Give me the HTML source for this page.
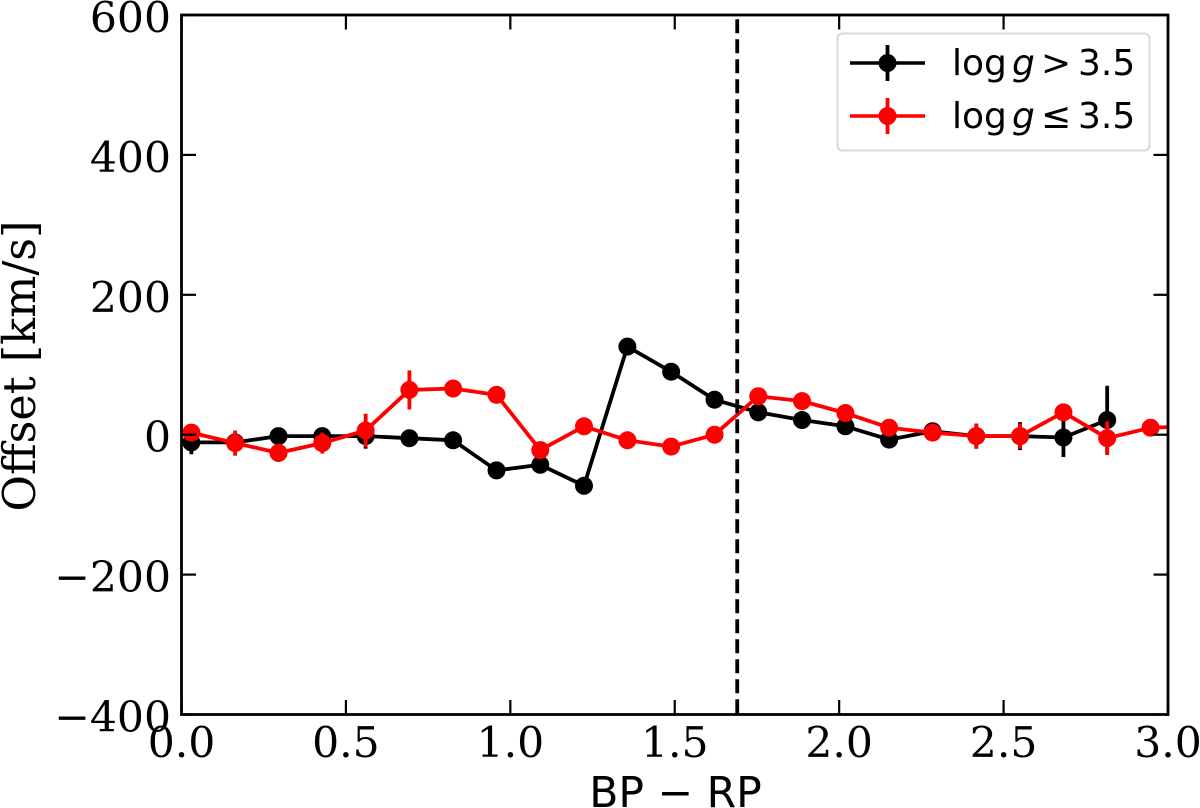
<!DOCTYPE html>
<html>
<head>
<meta charset="utf-8">
<title>Offset vs BP-RP</title>
<style>
html,body{margin:0;padding:0;background:#fff;width:1200px;height:808px;overflow:hidden}
svg{display:block}
.tick{font-family:"DejaVu Serif","Liberation Serif",serif;font-size:42.5px;fill:#000}
.ylab{font-family:"DejaVu Serif","Liberation Serif",serif;font-size:44.5px;fill:#000}
.sans{font-family:"DejaVu Sans","Liberation Sans",sans-serif;fill:#000}
</style>
</head>
<body>
<svg id="chart" xmlns="http://www.w3.org/2000/svg" width="1200" height="808" viewBox="0 0 1200 808">
  <defs><clipPath id="plot-clip"><rect x="181.5" y="15" width="986.5" height="699.5"/></clipPath></defs>
  <rect x="181.5" y="15" width="986.5" height="699.5" fill="#fff"/>
  <g id="marks" clip-path="url(#plot-clip)"></g>
  <g id="ticks"></g>
  <rect x="181.5" y="15" width="986.5" height="699.5" fill="none" stroke="#000" stroke-width="2.8"/>
  <g id="labels"></g>
  <text class="ylab" text-anchor="middle" transform="translate(35,366) rotate(-90)">Offset [km/s]</text>
  <text class="sans" font-size="42.5" text-anchor="middle" x="675.5" y="807">BP − RP</text>
  <g>
    <rect x="837.5" y="33.5" width="312" height="117" rx="5" fill="#fff" fill-opacity="0.9" stroke="#d8d8d8" stroke-width="2"/>
    <g>
      <line x1="850" x2="925" y1="63" y2="63" stroke="#000" stroke-width="3.6"/>
      <line x1="887.5" x2="887.5" y1="45" y2="81" stroke="#000" stroke-width="3.8"/>
      <circle cx="887.5" cy="63" r="9" fill="#000"/>
      <text class="sans" font-size="36" y="75"><tspan x="952">log</tspan><tspan x="1012" font-style="italic">g</tspan><tspan x="1041">&gt;</tspan><tspan x="1078">3.5</tspan></text>
    </g>
    <g>
      <line x1="850" x2="925" y1="116" y2="116" stroke="#f00" stroke-width="3.6"/>
      <line x1="887.5" x2="887.5" y1="98" y2="134" stroke="#f00" stroke-width="3.8"/>
      <circle cx="887.5" cy="116" r="9" fill="#f00"/>
      <text class="sans" font-size="36" y="128"><tspan x="952">log</tspan><tspan x="1012" font-style="italic">g</tspan><tspan x="1041">≤</tspan><tspan x="1078">3.5</tspan></text>
    </g>
  </g>
</svg>
<script>
const colorBins = [0.03,0.163,0.295,0.428,0.56,0.693,0.826,0.958,1.091,1.224,1.356,1.489,1.621,1.754,1.887,2.019,2.152,2.284,2.417,2.55,2.682,2.815,2.947,3.08];
const blackValues = [-11,-11,-2,-2,-2,-5,-8,-51,-43,-73,126,90,50,32,21,12,-7,5,-2,-2,-4,21];
const blackErrors = [17,5,5,5,18,5,5,5,5,5,5,5,5,5,5,5,5,5,18,20,28,49];
const redValues = [3,-12,-26,-12,6,64,66,57,-22,12,-8,-17,0,55,48,31,10,3,-2,-2,32,-5,10,12];
const redErrors = [6,18,13,15,24,28,5,5,5,5,5,5,5,5,5,5,5,5,18,18,5,24,5,5];
const xTicks = [0,0.5,1,1.5,2,2.5,3];
const xTickLabels = ["0.0","0.5","1.0","1.5","2.0","2.5","3.0"];
const yTicks = [-400,-200,0,200,400,600];
const yTickLabels = ["−400","−200","0","200","400","600"];
const cutoffColor = [1.69];

const NS = "http://www.w3.org/2000/svg";
function xScale(v){ return 181.5 + (v - 0) / 3 * 986.5; }
function yScale(v){ return 714.5 - (v + 400) / 1000 * 699.5; }
function make(tag, parent, props){
  const el = document.createElementNS(NS, tag);
  for (const k in props) el.setAttribute(k, props[k]);
  parent.appendChild(el);
  return el;
}
const marks = document.getElementById("marks");
const ticks = document.getElementById("ticks");
const labels = document.getElementById("labels");

xTicks.forEach(function(t, i){
  const x = xScale(t);
  const low = make("line", ticks, {x1:x, x2:x, y1:714.5, y2:700, stroke:"#000", "stroke-width":2.2});
  
  
  const high = make("line", ticks, {x1:x, x2:x, y1:15, y2:29.5, stroke:"#000", "stroke-width":2.2});
  
  
  const tx = make("text", labels, {x:x, y:757, "text-anchor":"middle", class:"tick"});
  tx.textContent = xTickLabels[i];
  
  
});
yTicks.forEach(function(t, i){
  const y = yScale(t);
  const left = make("line", ticks, {x1:181.5, x2:196, y1:y, y2:y, stroke:"#000", "stroke-width":2.2});
  
  
  const right = make("line", ticks, {x1:1168, x2:1153.5, y1:y, y2:y, stroke:"#000", "stroke-width":2.2});
  
  
  const tx = make("text", labels, {x:171, y:y + 17, "text-anchor":"end", class:"tick"});
  tx.textContent = yTickLabels[i];
  
  
});

function drawSeries(values, errors, color, label){
  const g = make("g", marks, {});
  
  
  const pts = values.map(function(v, i){ return xScale(colorBins[i]) + "," + yScale(v); }).join(" ");
  const line = make("polyline", g, {points:pts, fill:"none", stroke:color, "stroke-width":3.8, "stroke-linejoin":"round"});
  
  
  values.forEach(function(v, i){
    const x = xScale(colorBins[i]);
    const bar = make("line", g, {x1:x, x2:x, y1:yScale(v - errors[i]), y2:yScale(v + errors[i]), stroke:color, "stroke-width":3.8});
    
    
    const dot = make("circle", g, {cx:x, cy:yScale(v), r:9, fill:color});
    
    
  });
}
drawSeries(blackValues, blackErrors, "#000", "series-high-gravity");
drawSeries(redValues, redErrors, "#f00", "series-low-gravity");

const cutoff = make("line", marks, {x1:xScale(cutoffColor[0]), x2:xScale(cutoffColor[0]), y1:yScale(600), y2:yScale(-400), stroke:"#000", "stroke-width":3.8, "stroke-dasharray":"14 6", "stroke-dashoffset":"15.7"});


</script>
</body>
</html>
